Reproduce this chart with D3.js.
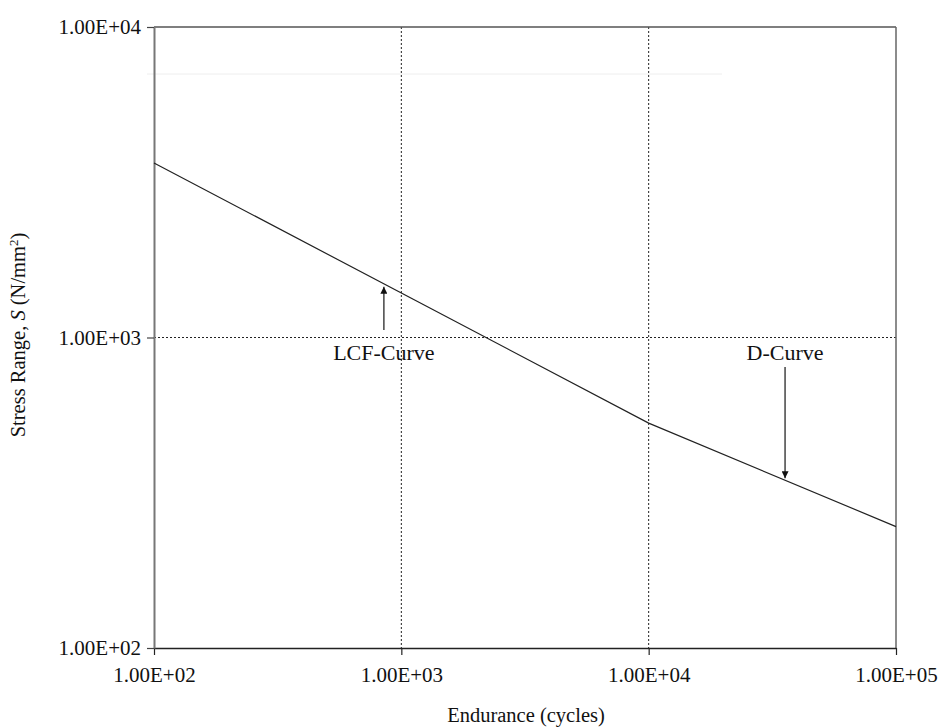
<!DOCTYPE html>
<html><head><meta charset="utf-8">
<script src="https://cdn.jsdelivr.net/npm/d3@7"></script>
<style>body{margin:0;background:#fff}svg{display:block}text{font-family:"Liberation Serif","Times New Roman",serif;fill:#111}</style>
</head><body><svg id="c" width="944" height="727"></svg>
<script>
const xTicks = [1e2, 1e3, 1e4, 1e5];
const yTicks = [1e2, 1e3, 1e4];
const tickLabels = ["1.00E+02","1.00E+03","1.00E+04","1.00E+05"];
const yTickLabels = ["1.00E+02","1.00E+03","1.00E+04"];
const curveN = [1e2, 1e4, 1e5];
const curveS = [3650, 530, 246];
const annotations = [
  {label:"LCF-Curve", n:850, tailS:1057, dir:"up"},
  {label:"D-Curve", n:35600, tailS:803, dir:"down"}
];

const svg = d3.select("#c");
const L=154, R=896, T=27, B=648;
const x = d3.scaleLog().domain([1e2,1e5]).range([L,R]);
const y = d3.scaleLog().domain([1e2,1e4]).range([B,T]);

svg.append("line").attr("x1",147).attr("x2",722).attr("y1",74).attr("y2",74).attr("stroke","#eee").attr("stroke-width",1);

svg.append("g").selectAll("line").data(xTicks.slice(1,3)).join("line")
  .attr("x1",d=>x(d)).attr("x2",d=>x(d)).attr("y1",T).attr("y2",B)
  .attr("stroke","#222").attr("stroke-width",1).attr("stroke-dasharray","2,2");
svg.append("g").selectAll("line").data([1e3]).join("line")
  .attr("x1",L).attr("x2",R).attr("y1",d=>y(d)).attr("y2",d=>y(d))
  .attr("stroke","#222").attr("stroke-width",1).attr("stroke-dasharray","2,2");

svg.append("line").attr("x1",L).attr("x2",R).attr("y1",T).attr("y2",T).attr("stroke","#555").attr("stroke-width",1.5);
svg.append("line").attr("x1",R).attr("x2",R).attr("y1",T).attr("y2",B).attr("stroke","#666").attr("stroke-width",1.5);

const fmtX = d => tickLabels[xTicks.indexOf(d)];
const fmtY = d => yTickLabels[yTicks.indexOf(d)];
const xAxis = svg.append("g").attr("transform",`translate(0,${B})`)
  .call(d3.axisBottom(x).tickValues(xTicks).tickFormat(fmtX).tickSize(7).tickSizeOuter(0).tickPadding(12));
const yAxis = svg.append("g").attr("transform",`translate(${L},0)`)
  .call(d3.axisLeft(y).tickValues(yTicks).tickFormat(fmtY).tickSize(7).tickSizeOuter(0).tickPadding(6));
xAxis.select(".domain").attr("stroke","#222").attr("stroke-width",1.5);
yAxis.select(".domain").attr("stroke","#777").attr("stroke-width",2);
xAxis.selectAll(".tick line").attr("stroke","#222").attr("stroke-width",1.2);
yAxis.selectAll(".tick line").attr("stroke","#444").attr("stroke-width",1.2);
svg.selectAll(".tick text").style("font-family","Liberation Serif").style("font-size","21px").attr("fill","#111");

const pts = curveN.map((n,i)=>[n,curveS[i]]);
svg.append("path").datum(pts).attr("fill","none").attr("stroke","#222").attr("stroke-width",1.2)
  .attr("d", d3.line().x(d=>x(d[0])).y(d=>y(d[1])));

function curveAt(n){
  const ln=Math.log10(n);
  for(let i=0;i<curveN.length-1;i++){
    const a=Math.log10(curveN[i]), b=Math.log10(curveN[i+1]);
    if(ln>=a && ln<=b){const t=(ln-a)/(b-a);return Math.pow(10,Math.log10(curveS[i])+t*(Math.log10(curveS[i+1])-Math.log10(curveS[i])));}
  }
}
svg.append("defs").append("marker").attr("id","ah").attr("viewBox","0 0 10 10").attr("refX",10).attr("refY",5)
  .attr("markerWidth",7).attr("markerHeight",7).attr("markerUnits","userSpaceOnUse").attr("orient","auto")
  .append("path").attr("d","M0,0L10,5L0,10Z").attr("fill","#111");

annotations.forEach(a=>{
  const xs=x(a.n), ty=y(a.tailS), hy=y(curveAt(a.n));
  svg.append("line").attr("x1",xs).attr("x2",xs).attr("y1",ty).attr("y2",a.dir==="up"?hy+3:hy-2)
    .attr("stroke","#444").attr("stroke-width",1.5).attr("marker-end","url(#ah)");
  svg.append("text").attr("x",xs).attr("y",360).attr("text-anchor","middle")
    .style("font-family","Liberation Serif").style("font-size","22px").text(a.label);
});

svg.append("text").attr("x",526).attr("y",722).attr("text-anchor","middle").style("font-size","20.5px").text("Endurance (cycles)");
const yt = svg.append("text").attr("transform","translate(25,335) rotate(-90)").attr("text-anchor","middle").style("font-size","20.5px");
yt.append("tspan").text("Stress Range, ");
yt.append("tspan").style("font-style","italic").text("S");
yt.append("tspan").text(" (N/mm");
yt.append("tspan").attr("baseline-shift","super").style("font-size","13px").text("2");
yt.append("tspan").text(")");
</script></body></html>
